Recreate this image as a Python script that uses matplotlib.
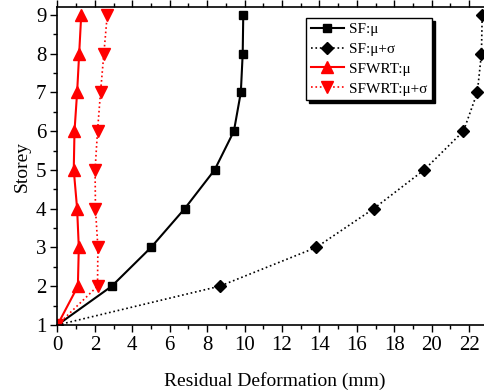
import matplotlib
matplotlib.use("Agg")
import matplotlib.pyplot as plt
from matplotlib.ticker import MultipleLocator

plt.rcParams['font.family'] = ['Liberation Serif', 'DejaVu Serif']

storey = [1, 2, 3, 4, 5, 6, 7, 8, 9]
sf_mu = [0, 2.9, 5.0, 6.8, 8.4, 9.43, 9.8, 9.9, 9.93]
sf_mu_sigma = [0, 8.67, 13.83, 16.9, 19.6, 21.7, 22.44, 22.66, 22.7]
sfwrt_mu = [0, 1.09, 1.14, 1.05, 0.87, 0.91, 1.05, 1.16, 1.27]
sfwrt_mu_sigma = [0, 2.14, 2.16, 2.03, 2.01, 2.14, 2.3, 2.48, 2.66]

labels = ['SF:μ', 'SF:μ+σ', 'SFWRT:μ', 'SFWRT:μ+σ']

fig = plt.figure(figsize=(4.85, 3.92), dpi=100)
ax = fig.add_axes([0.1185, 0.171, 0.895, 0.811])

ax.plot(sf_mu, storey, '-', color='black', lw=1.5, marker='s', ms=6, label=labels[0])
ax.plot(sf_mu_sigma, storey, ':', color='black', lw=1.2, marker='D', ms=6, label=labels[1])
ax.plot(sfwrt_mu, storey, '-', color='red', lw=1.5, marker='^', ms=8, label=labels[2])
ax.plot(sfwrt_mu_sigma, storey, ':', color='red', lw=1.2, marker='v', ms=8, label=labels[3])

ax.set_xlim(0, 23.2)
ax.set_ylim(1, 9.2)
ax.xaxis.set_major_locator(MultipleLocator(2))
ax.xaxis.set_minor_locator(MultipleLocator(1))
ax.yaxis.set_major_locator(MultipleLocator(1))
ax.yaxis.set_minor_locator(MultipleLocator(0.5))
ax.tick_params(which='major', direction='out', length=5, width=1, labelsize=15, pad=3)
ax.tick_params(which='minor', direction='out', length=3, width=1)
ax.tick_params(which='both', top=True, right=True)
for s in ax.spines.values():
    s.set_linewidth(1.2)

ax.set_xlabel('Residual Deformation (mm)', fontsize=14, labelpad=12)
ax.set_ylabel('Storey', fontsize=14, labelpad=4)

leg = ax.legend(loc='upper left', bbox_to_anchor=(0.555, 0.99), fontsize=11,
                frameon=True, fancybox=False, shadow={'color': 'black', 'alpha': 1},
                edgecolor='black', framealpha=1, handlelength=2.2,
                borderpad=0.3, labelspacing=0.4, handletextpad=0.3)
leg.get_frame().set_linewidth(1)

fig.savefig('out.png', dpi=100)
